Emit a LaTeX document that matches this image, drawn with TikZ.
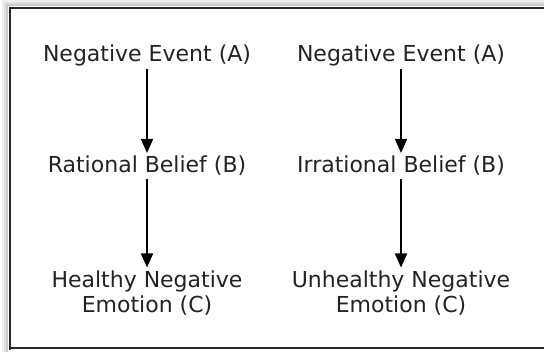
\documentclass[tikz,border=0pt]{standalone}
\usepackage{fontspec}
\setmainfont{DejaVu Sans}
\usepackage{xcolor}
\usetikzlibrary{arrows.meta, positioning}
\definecolor{framecolor}{RGB}{40,40,40}
\definecolor{shadecolor}{RGB}{150,150,150}
\definecolor{textcolor}{RGB}{35,35,35}

\begin{document}
\begin{tikzpicture}[
    x=1pt, y=-1pt,
    step label/.style={font=\fontsize{22}{25}\selectfont, text=textcolor, align=center, inner sep=3pt},
    arrow/.style={-{Triangle[length=14pt, width=12pt]}, line width=1.5pt, black}
]
    \useasboundingbox (0,0) rectangle (544,352);
    % Frame with a soft shadow
    \foreach \d/\s in {7/15, 5/30, 3/50} {
        \draw[shadecolor!\s, line width=2pt] (10-\d,352) -- (10-\d,8-\d) -- (544,8-\d);
    }
    \draw[framecolor, line width=2.8pt] (10,350) -- (10,8) -- (550,8);
    \draw[framecolor, line width=2.8pt] (10,348) -- (550,348);

    % Rational side
    \node[step label] (evA1) at (147,55) {Negative Event (A)};
    \node[step label] (belR) at (147,166) {Rational Belief (B)};
    \node[step label] (emoH) at (147,293) {Healthy Negative\\Emotion (C)};

    % Irrational side
    \node[step label] (evA2) at (401,55) {Negative Event (A)};
    \node[step label] (belI) at (401,166) {Irrational Belief (B)};
    \node[step label] (emoU) at (401,293) {Unhealthy Negative\\Emotion (C)};

    % Arrows
    \draw[arrow] (evA1) -- (belR);
    \draw[arrow] (belR) -- (emoH);
    \draw[arrow] (evA2) -- (belI);
    \draw[arrow] (belI) -- (emoU);
\end{tikzpicture}
\end{document}
